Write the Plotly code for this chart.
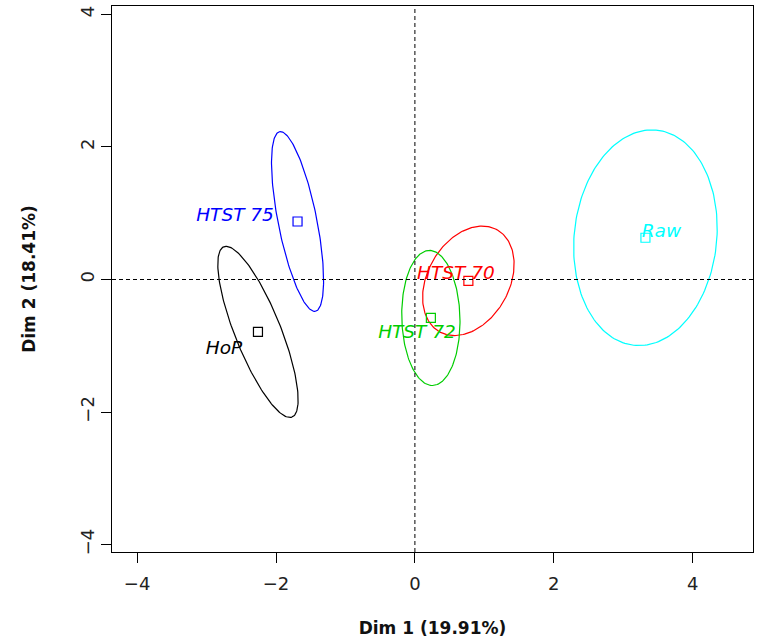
import numpy as np
import plotly.graph_objects as go

# ---- data ----
groups = ["HoP", "HTST 70", "HTST 72", "HTST 75", "Raw"]
colors = ["#000000", "#FF0000", "#00CD00", "#0000FF", "#00FFFF"]
center_x = [-2.26, 0.77, 0.23, -1.69, 3.32]
center_y = [-0.79, -0.02, -0.58, 0.875, 0.63]
semi_major = [1.375, 0.874, 1.019, 1.379, 1.631]
semi_minor = [0.332, 0.593, 0.419, 0.279, 1.027]
angle_deg = [-69.2, 63.4, -88.6, -79.3, 84.6]
label_x = [-2.75, 0.59, 0.03, -2.59, 3.55]
label_y = [-1.05, 0.075, -0.815, 0.953, 0.713]
tick_vals = [-4, -2, 0, 2, 4]
x_title = "Dim 1 (19.91%)"
y_title = "Dim 2 (18.41%)"

FONT = "DejaVu Sans"

fig = go.Figure()

t = np.linspace(0, 2 * np.pi, 200)
for g, c, cx, cy, a, b, ang in zip(groups, colors, center_x, center_y,
                                    semi_major, semi_minor, angle_deg):
    th = np.deg2rad(ang)
    ex = cx + a * np.cos(t) * np.cos(th) - b * np.sin(t) * np.sin(th)
    ey = cy + a * np.cos(t) * np.sin(th) + b * np.sin(t) * np.cos(th)
    fig.add_trace(go.Scatter(x=ex, y=ey, mode="lines",
                             line=dict(color=c, width=1.2),
                             hoverinfo="skip", showlegend=False))

fig.add_trace(go.Scatter(
    x=center_x, y=center_y, mode="markers",
    marker=dict(symbol="square-open", size=9, color=colors,
                line=dict(width=1.2, color=colors)),
    showlegend=False, text=groups))

fig.add_trace(go.Scatter(
    x=label_x, y=label_y, mode="text", text=groups,
    textfont=dict(family=FONT, size=18.5, color=colors, style="italic"),
    textposition="middle center", showlegend=False, hoverinfo="skip"))

# dashed reference lines
fig.add_shape(type="line", xref="paper", yref="y", x0=0, x1=1, y0=0, y1=0,
              line=dict(color="black", width=1, dash="4px,3px"))
fig.add_shape(type="line", xref="x", yref="paper", x0=0, x1=0, y0=0, y1=1,
              line=dict(color="black", width=1, dash="4px,3px"))

axis_common = dict(
    showgrid=False, zeroline=False, showline=True, mirror=True,
    linecolor="black", linewidth=1, ticks="outside", ticklen=10,
    tickcolor="black", tickvals=tick_vals, automargin=False,
    ticklabeloverflow="allow",
    tickfont=dict(family=FONT, size=18, color="#222222"),
)

fig.update_layout(
    width=757, height=640,
    margin=dict(l=112, r=4, t=6, b=88),
    paper_bgcolor="white", plot_bgcolor="white",
    xaxis=dict(range=[-4.362, 4.869], ticklabelstandoff=5, **axis_common,
               title=dict(text="<b>" + x_title + "</b>",
                          font=dict(family=FONT, size=17, color="#111111"),
                          standoff=29)),
    yaxis=dict(range=[-4.11, 4.125], tickangle=-90, **axis_common,
               title=dict(text="<b>" + y_title + "</b>",
                          font=dict(family=FONT, size=17, color="#111111"),
                          standoff=36)),
)

# remove the default 8px page margin so the figure fills the window exactly
fig.write_html("out.html",
               config={"displayModeBar": False},
               post_script="document.body.style.margin='0';"
                           "document.body.style.overflow='hidden';")
